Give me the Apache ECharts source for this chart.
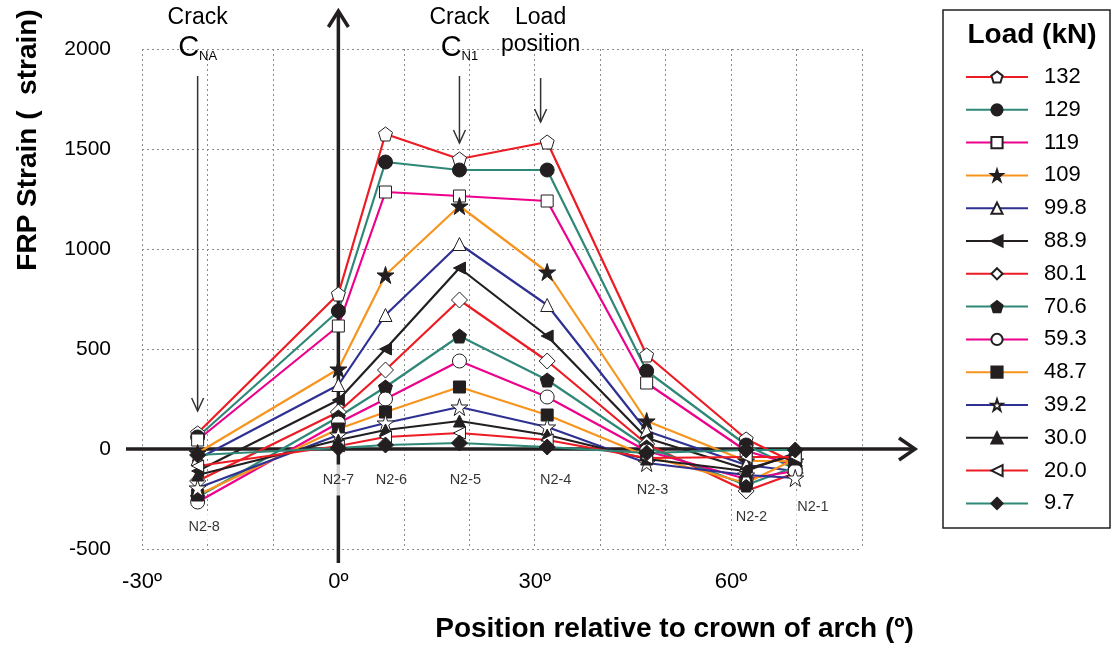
<!DOCTYPE html>
<html>
<head>
<meta charset="utf-8">
<script src="https://cdn.jsdelivr.net/npm/echarts@6/dist/echarts.min.js"></script>
<style>
  html, body { margin: 0; padding: 0; background: #fff; }
  #chart { width: 1112px; height: 649px; }
</style>
</head>
<body>
<div id="chart"></div>
<script>
// Gauge nodes along the arch (angle from crown, degrees)
const nodeNames = ['N2-8', 'N2-7', 'N2-6', 'N2-5', 'N2-4', 'N2-3', 'N2-2', 'N2-1'];
const nodeAngles = [-21.5, 0, 7.2, 18.5, 31.9, 47.1, 62.3, 69.8];
// where each node name is written (angle, strain)
const nodeLabelAngles = [-20.5, 0, 8.1, 19.4, 33.2, 48.0, 63.1, 72.5];
const nodeLabelStrain = [-390, -155, -155, -155, -155, -205, -340, -290];

// Load steps (kN)
const loads = ['132', '129', '119', '109', '99.8', '88.9', '80.1', '70.6', '59.3', '48.7', '39.2', '30.0', '20.0', '9.7'];

// FRP strain (microstrain) at each node, per load step
const strain132 = [80, 775, 1575, 1450, 1535, 470, 50, -70];
const strain129 = [60, 690, 1435, 1395, 1395, 390, 20, -100];
const strain119 = [45, 615, 1285, 1265, 1240, 330, -10, -80];
const strain109 = [-20, 400, 870, 1215, 885, 140, -60, -60];
const strain99_8 = [-50, 320, 670, 1025, 720, 90, -80, -110];
const strain88_9 = [-110, 245, 500, 905, 565, 55, -100, -30];
const strain80_1 = [-160, 185, 395, 745, 440, 25, -210, -120];
const strain70_6 = [-240, 160, 310, 565, 345, 10, -180, -90];
const strain59_3 = [-265, 130, 250, 440, 260, -10, -150, -110];
const strain48_7 = [-230, 100, 185, 310, 170, -35, -170, -50];
const strain39_2 = [-195, 70, 130, 210, 110, -70, -130, -145];
const strain30_0 = [-130, 45, 95, 140, 70, -50, -110, -20];
const strain20_0 = [-85, 15, 60, 80, 45, -45, -40, -40];
const strain9_7 = [-30, 5, 20, 30, 10, -20, -5, -5];

const strainSets = [strain132, strain129, strain119, strain109, strain99_8, strain88_9, strain80_1,
  strain70_6, strain59_3, strain48_7, strain39_2, strain30_0, strain20_0, strain9_7];

// Axis ticks
const xTickValues = [-30, 0, 30, 60];
const xTickLabels = ['-30º', '0º', '30º', '60º'];

// Annotation positions (angle)
const crackNAAngle = nodeAngles[0];
const crackN1Angle = nodeAngles[3];
const loadPositionAngle = 30.9;

// Colour and marker per load step
const RED = '#ED1C24', TEAL = '#2F8877', PINK = '#EC008C', ORANGE = '#F7941D', BLUE = '#2E3192', BLACK = '#231F20';
const INK = '#000';
const lineColors = [RED, TEAL, PINK, ORANGE, BLUE, BLACK, RED, TEAL, PINK, ORANGE, BLUE, BLACK, RED, TEAL];

const PENTAGON = 'path://M50,0 L97.6,34.5 L79.4,90.5 L20.6,90.5 L2.4,34.5 Z';
const STAR = 'path://M50,0 L61.2,34.5 L97.6,34.5 L68.2,55.9 L79.4,90.5 L50,69.1 L20.6,90.5 L31.8,55.9 L2.4,34.5 L38.8,34.5 Z';
const LEFT_TRI = 'path://M0,50 L100,0 L100,100 Z';
const markers = [
  { symbol: PENTAGON, fill: '#fff', size: 14 },
  { symbol: 'circle', fill: BLACK, size: 14 },
  { symbol: 'rect', fill: '#fff', size: 12 },
  { symbol: STAR, fill: BLACK, size: 17 },
  { symbol: 'triangle', fill: '#fff', size: 13 },
  { symbol: LEFT_TRI, fill: BLACK, size: 12 },
  { symbol: 'diamond', fill: '#fff', size: 16 },
  { symbol: PENTAGON, fill: BLACK, size: 14 },
  { symbol: 'circle', fill: '#fff', size: 14 },
  { symbol: 'rect', fill: BLACK, size: 12 },
  { symbol: STAR, fill: '#fff', size: 17 },
  { symbol: 'triangle', fill: BLACK, size: 12 },
  { symbol: LEFT_TRI, fill: '#fff', size: 12 },
  { symbol: 'diamond', fill: BLACK, size: 16 }
];

const FONT = '"Liberation Sans", Arial, sans-serif';

const chart = echarts.init(document.getElementById('chart'), null, { renderer: 'canvas' });

const lineSeries = loads.map((name, i) => ({
  name: name,
  type: 'line',
  z: 3,
  data: nodeAngles.map((a, k) => [a, strainSets[i][k]]),
  symbol: markers[i].symbol,
  symbolSize: markers[i].size,
  showAllSymbol: true,
  lineStyle: { color: lineColors[i], width: 2.2 },
  itemStyle: { color: markers[i].fill, borderColor: BLACK, borderWidth: 1 },
  emphasis: { disabled: true },
  animation: false
}));

const nodeLabelSeries = {
  type: 'scatter',
  z: 10,
  symbolSize: 0,
  silent: true,
  data: nodeNames.map((n, k) => ({ value: [nodeLabelAngles[k], nodeLabelStrain[k]], name: n })),
  label: {
    show: true,
    position: 'inside',
    formatter: p => p.name,
    fontFamily: FONT,
    fontSize: 14.5,
    color: INK,
    backgroundColor: '#fff',
    padding: [8, 1, 8, 1]
  },
  animation: false
};

chart.setOption({
  animation: false,
  backgroundColor: '#fff',
  grid: { left: 142, right: 250, top: 49, bottom: 100 },
  xAxis: {
    type: 'value',
    min: -30, max: 80, interval: 10,
    axisLine: { show: false },
    axisTick: { show: false },
    splitLine: { show: true, lineStyle: { color: '#8a8a8a', type: [2, 3], width: 1 } },
    axisLabel: {
      fontFamily: FONT, fontSize: 22, color: INK, margin: 22,
      formatter: v => { const i = xTickValues.indexOf(v); return i >= 0 ? xTickLabels[i] : ''; }
    },
    name: 'Position relative to crown of arch (º)',
    nameLocation: 'middle',
    nameGap: 66,
    nameTextStyle: { fontFamily: FONT, fontSize: 28, fontWeight: 'bold', color: INK, padding: [0, 0, 0, 345] }
  },
  yAxis: {
    type: 'value',
    min: -500, max: 2000, interval: 500,
    axisLine: { show: false },
    axisTick: { show: false },
    splitLine: { show: true, lineStyle: { color: '#8a8a8a', type: [2, 3], width: 1 } },
    axisLabel: { fontFamily: FONT, fontSize: 21, color: INK, margin: 31, formatter: v => String(v) },
    name: 'FRP Strain (  strain)',
    nameLocation: 'middle',
    nameGap: 100,
    nameRotate: 90,
    nameTextStyle: { fontFamily: FONT, fontSize: 28, fontWeight: 'bold', color: INK, padding: [0, 0, 0, 318] }
  },
  legend: {
    orient: 'vertical',
    left: 965,
    top: 66,
    padding: 0,
    itemWidth: 62,
    itemHeight: 14,
    itemGap: 10.8,
    selectedMode: false,
    data: loads,
    textStyle: { fontFamily: FONT, fontSize: 22, color: INK, lineHeight: 20, padding: [0, 0, 0, 11] }
  },
  series: [...lineSeries, nodeLabelSeries]
});

// Axes through the origin, annotations and legend frame
const origin = chart.convertToPixel({ gridIndex: 0 }, [0, 0]);
const ox = origin[0], oy = origin[1];
const xNA = chart.convertToPixel({ gridIndex: 0 }, [crackNAAngle, 0])[0];
const xN1 = chart.convertToPixel({ gridIndex: 0 }, [crackN1Angle, 0])[0];
const xLP = chart.convertToPixel({ gridIndex: 0 }, [loadPositionAngle, 0])[0];

const axisStyle = { stroke: BLACK, lineWidth: 3.5, lineJoin: 'miter' };
const arrowStyle = { stroke: '#333', lineWidth: 1.5, fill: null };

function arrowDown(x, y1, y2) {
  return [
    { type: 'line', z: 5, shape: { x1: x, y1: y1, x2: x, y2: y2 }, style: arrowStyle },
    { type: 'polyline', z: 5, shape: { points: [[x - 6, y2 - 13], [x, y2], [x + 6, y2 - 13]] }, style: arrowStyle }
  ];
}

function text(x, y, str, size, weight) {
  return {
    type: 'text', z: 5, x: x, y: y,
    style: { text: str, fontFamily: FONT, fontSize: size, fontWeight: weight || 'normal', fill: INK, align: 'center', verticalAlign: 'middle' }
  };
}

function crackLabel(x, y, sub) {
  return {
    type: 'text', z: 5, x: x, y: y,
    style: {
      text: '{c|C}{s|' + sub + '}',
      align: 'center', verticalAlign: 'middle',
      rich: {
        c: { fontFamily: FONT, fontSize: 29, fill: INK },
        s: { fontFamily: FONT, fontSize: 13, fill: INK, padding: [16, 0, 0, 0] }
      }
    }
  };
}

chart.setOption({
  graphic: [
    // horizontal axis through zero strain
    { type: 'line', z: 1, shape: { x1: 126, y1: oy, x2: 914, y2: oy }, style: axisStyle },
    { type: 'polyline', z: 1, shape: { points: [[899, oy - 11], [915, oy], [899, oy + 11]] }, style: Object.assign({ fill: null }, axisStyle) },
    // vertical axis at the crown
    { type: 'line', z: 1, shape: { x1: ox, y1: 12, x2: ox, y2: 563 }, style: axisStyle },
    { type: 'polyline', z: 1, shape: { points: [[ox - 10, 27], [ox, 11], [ox + 10, 27]] }, style: Object.assign({ fill: null }, axisStyle) },

    // crack and load markers
    text(xNA, 18, 'Crack', 23),
    crackLabel(xNA, 48, 'NA'),
    ...arrowDown(xNA, 76, 411),
    text(xN1, 18, 'Crack', 23),
    crackLabel(xN1, 48, 'N1'),
    ...arrowDown(xN1, 76, 143),
    text(xLP, 18, 'Load', 23),
    text(xLP, 45, 'position', 23),
    ...arrowDown(xLP, 78, 122),

    // legend frame and heading
    { type: 'rect', z: 0, shape: { x: 943, y: 10, width: 167, height: 518 }, style: { fill: null, stroke: BLACK, lineWidth: 1.5 } },
    text(1032, 35, 'Load (kN)', 28, 'bold')
  ]
});
</script>
</body>
</html>
